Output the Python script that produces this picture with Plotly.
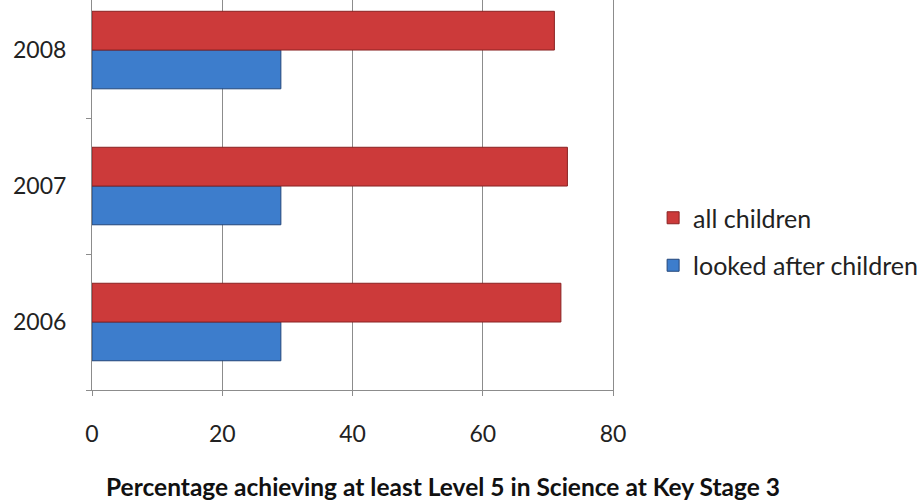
import plotly.graph_objects as go

years = ["2006", "2007", "2008"]
all_children = [72, 73, 71]
looked_after = [29, 29, 29]
x_ticks = [0, 20, 40, 60, 80]
series_names = ["all children", "looked after children"]
axis_title = "Percentage achieving at least Level 5 in Science at Key Stage 3"

FONT = "Lato, Open Sans, sans-serif"

fig = go.Figure()
fig.add_trace(go.Bar(
    y=years, x=looked_after, orientation="h", name=series_names[1],
    marker=dict(color="#3D7DCC", line=dict(color="#23467A", width=1)),
    legendgroup="b", legendrank=2,
))
fig.add_trace(go.Bar(
    y=years, x=all_children, orientation="h", name=series_names[0],
    marker=dict(color="#CC3A3A", line=dict(color="#8A2222", width=1)),
    legendgroup="a", legendrank=1,
))

fig.update_layout(
    width=920, height=502,
    margin=dict(l=92, r=307, t=0, b=112, autoexpand=False),
    paper_bgcolor="white", plot_bgcolor="white",
    barmode="group", bargap=0.43, bargroupgap=0,
    font=dict(family=FONT, size=23, color="#222222"),
    legend=dict(
        x=1.077, y=0.5, xanchor="left", yanchor="top",
        traceorder="grouped", tracegroupgap=12,
        font=dict(size=25, color="#222222"),
        itemwidth=30,
    ),
    xaxis=dict(
        range=[0, 80], tickvals=x_ticks, showgrid=True, gridcolor="#8C8C8C", gridwidth=1,
        showline=True, linecolor="#8C8C8C", linewidth=1, zeroline=False,
        ticks="outside", ticklen=5, tickcolor="#8C8C8C",
        ticklabelstandoff=18, tickfont=dict(size=23, color="#222222"),
        fixedrange=True, automargin=False,
    ),
    yaxis=dict(
        type="category", range=[-0.5, 2.368],
        showline=True, linecolor="#8C8C8C", linewidth=1, mirror=True,
        ticks="outside", ticklen=5, tickcolor="#8C8C8C", tickson="boundaries",
        ticklabelstandoff=20, tickfont=dict(size=23, color="#222222"),
        showgrid=False, zeroline=False, automargin=False,
    ),
    annotations=[dict(
        text="<b>" + axis_title + "</b>", xref="paper", yref="paper",
        x=(443 - 92) / 521, y=(390 - 486) / 390, xanchor="center", yanchor="middle",
        showarrow=False,
        font=dict(size=24.5, color="#111111", family=FONT),
    )],
)

fig.write_html(
    "out.html",
    config={"displayModeBar": False},
    post_script="document.body.style.margin='0px';",
)
